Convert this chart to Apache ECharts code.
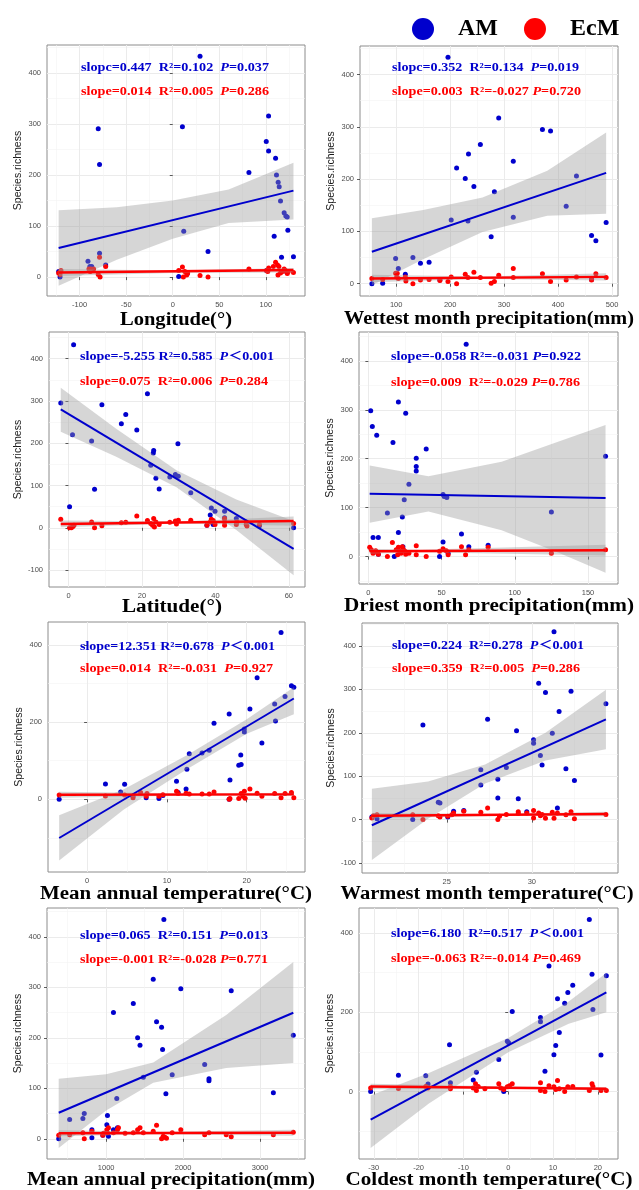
<!DOCTYPE html>
<html>
<head>
<meta charset="utf-8">
<script src="https://cdn.jsdelivr.net/npm/echarts@6/dist/echarts.min.js"></script>
<style>html,body{margin:0;padding:0;background:#fff}#chart{width:639px;height:1190px}</style>
</head>
<body>
<div id="chart"></div>
<script>
// ---- Longitude ----
var lonAM = [[-122.5,11],[-121,0],[-91,31],[-89,21],[-87,21],[-80,291],[-78.6,221],[-78.6,47],[-72,24],[10.4,295],[11.8,90],[6.4,1],[15.7,7],[29.3,433],[37.9,50],[81.8,205],[102.9,316],[100.4,266],[102.9,247],[110.4,233],[111.4,200],[113.2,186],[114.3,177],[115.7,149],[119.6,126],[121.4,120],[122.9,118],[123.6,92],[108.9,80],[116.8,39],[129.6,40],[100.7,13],[122,11]];
var lonEcM = [[-122.5,8],[-121,5],[-120,13],[-90,16],[-88,16],[-85,16],[-88.6,11],[-78.6,39],[-80,5],[-78,0],[-72,21],[6.4,13],[10.4,20],[13,11],[11.4,0],[15,4],[16,8],[29.3,3],[37.9,0],[81.8,16],[100.7,13],[103,18],[102,11],[108,21],[110.4,29],[112.5,24],[114,21],[113,4],[115.7,8],[118,11],[119.6,16],[121,13],[123,7],[124,11],[129.6,9]];
var lonFitAM = [[-122.5,57],[129.6,169.6]];
var lonFitEcM = [[-122.5,9],[129.6,14]];
var lonBandAM = [[-122.5,-17,131],[-60,34,137],[0,75,150],[60,106,172],[129.6,113,224]];
var lonBandEcM = [[-122.5,2,16],[0,8,13],[129.6,9,18]];
var lonXRange = [-135, 142], lonYRange = [-37, 455];
var lonXTicks = [-100,-50,0,50,100], lonXMinor = [-125,-75,-25,25,75,125];
var lonYTicks = [0,100,200,300,400], lonYMinor = [50,150,250,350,450];
var lonNotes = [['slopc=0.447  R²=0.102  ','=0.037'],['slope=0.014  R²=0.005  ','=0.286']];

// ---- Wettest month precipitation ----
var wetAM = [[55,0],[75,1],[99,48],[104,29],[117,18],[131,50],[145,39],[161,41],[181,7],[196,433],[202,122],[212,221],[228,201],[234,248],[233,120],[244,186],[256,266],[276,90],[282,176],[290,317],[317,234],[317,127],[371,295],[386,292],[415,148],[434,206],[462,92],[470,82],[489,117],[462,8]];
var wetEcM = [[55,10],[75,8],[99,20],[102,20],[101,13],[104,10],[118,5],[117,13],[131,0],[145,7],[161,8],[181,6],[196,4],[202,13],[212,0],[228,18],[233,12],[244,22],[256,12],[276,1],[282,4],[290,16],[317,29],[317,12],[371,19],[386,4],[415,7],[434,13],[462,7],[470,19],[489,12]];
var wetFitAM = [[55,61],[489,212]];
var wetFitEcM = [[55,10],[489,13]];
var wetBandAM = [[55,-3,125],[150,47,141],[260,99,165],[380,130,216],[489,134,289]];
var wetBandEcM = [[55,3,17],[260,9,14],[489,6,20]];
var wetXRange = [33, 511], wetYRange = [-23.5, 454.5];
var wetXTicks = [100,200,300,400,500], wetXMinor = [50,150,250,350,450];
var wetYTicks = [0,100,200,300,400], wetYMinor = [50,150,250,350,450];
var wetNotes = [['slopc=0.352  R²=0.134  ','=0.019'],['slope=0.003  R²=-0.027 ','=0.720']];

// ---- Latitude ----
var latAM = [[-2.1,295],[1.4,433],[0.3,50],[1.1,220],[6.3,205],[7.1,91],[9.1,291],[14.4,246],[15.6,268],[18.6,231],[21.5,317],[22.4,148],[23.2,183],[23.1,177],[23.8,117],[24.7,92],[27.6,120],[29.1,126],[29.8,199],[29.9,122],[33.3,83],[37.7,6],[38.6,30],[38.9,47],[39.9,39],[42.5,39],[42.5,24],[45.7,22],[48.4,14],[52,5],[61.3,0],[39.4,8]];
var latEcM = [[-2.1,20],[0.3,0],[0.8,0],[1.2,3],[1.5,6],[6.3,14],[7.1,0],[9.1,5],[14.4,12],[15.6,13],[18.6,28],[21.5,17],[22.4,10],[22.9,6],[23.2,22],[23.4,2],[23.8,14],[24.7,8],[27.6,13],[29.1,16],[29.9,18],[29.4,9],[33.3,18],[37.7,6],[38.6,14],[38.9,20],[39.4,17],[39.9,8],[42.5,14],[42.5,6],[42.5,22],[45.7,8],[45.9,14],[48.4,8],[48.6,4],[52,8],[61.3,10]];
var latFitAM = [[-2.1,280],[61.3,-50]];
var latFitEcM = [[-2.1,9],[61.3,16]];
var latBandAM = [[-2.1,227,331],[13,168,234],[29.4,96,136],[45.7,-5,67],[61.3,-112,16]];
var latBandEcM = [[-2.1,1,17],[30,10,15],[61.3,5,27]];
var latXRange = [-5.3, 64.4], latYRange = [-140, 463];
var latXTicks = [0,20,40,60], latXMinor = [10,30,50];
var latYTicks = [-100,0,100,200,300,400], latYMinor = [-50,50,150,250,350,450];
var latNotes = [['slope=-5.255 R²=0.585  ','＜0.001'],['slope=0.075  R²=0.006  ','=0.284']];

// ---- Driest month precipitation ----
var dryAM = [[1.6,298],[2.7,266],[5.7,248],[3.2,39],[6.8,39],[6.8,5],[13,89],[16.8,233],[17.7,0],[20.5,316],[20.5,49],[23.2,81],[24.5,116],[23.6,20],[25.5,293],[27.7,148],[32.7,201],[32.7,184],[32.7,175],[39.5,220],[48.6,0],[51,127],[51.8,123],[53.6,121],[51,30],[54.5,7],[63.6,46],[66.8,434],[68.6,20],[81.8,23],[125,91],[162,205]];
var dryEcM = [[0.9,19],[2,14],[3.2,7],[5,12],[6.1,9],[6.8,5],[13,0],[16.4,29],[19,14],[20,4],[20.5,19],[21.4,11],[22.3,7],[23.2,20],[24,14],[25,11],[25.5,5],[27.7,7],[32.7,22],[32.7,4],[39.5,0],[48.6,11],[51,16],[53.2,12],[54.5,4],[63.6,20],[66.4,4],[68.6,14],[81.8,19],[125,7],[162,14]];
var dryFitAM = [[0.9,128.6],[162,119.7]];
var dryFitEcM = [[0.9,11],[162,13]];
var dryBandAM = [[0.9,69,186],[41,92,164],[91,54,194],[130,8,235],[162,-33,269]];
var dryBandEcM = [[0.9,6,16],[35,9,14],[162,2,24]];
var dryXRange = [-6.4, 170.5], dryYRange = [-56, 459];
var dryXTicks = [0,50,100,150], dryXMinor = [25,75,125];
var dryYTicks = [0,100,200,300,400], dryYMinor = [-50,50,150,250,350,450];
var dryNotes = [['slope=-0.058 R²=-0.031 ','=0.922'],['slope=0.009  R²=-0.029 ','=0.786']];

// ---- Mean annual temperature ----
var matAM = [[-3.5,0],[2.3,40],[4.2,19],[4.7,39],[5.75,8],[7.4,4],[9,2],[9.5,10],[11.2,47],[11.4,18],[12.4,27],[12.5,78],[12.8,118],[14.4,120],[15.3,127],[15.9,197],[17.8,221],[17.9,50],[19,88],[19.3,90],[19.25,115],[19.7,174],[19.7,182],[20.4,234],[21.3,315],[21.9,146],[23.5,247],[23.6,203],[24.3,432],[24.8,266],[25.6,294],[25.9,290],[17.8,0]];
var matEcM = [[-3.5,11],[2.3,9],[4.7,11],[5.75,4],[6.7,18],[7.4,8],[7.5,15],[9,8],[9.5,12],[11.2,21],[11.4,15],[12.4,16],[12.8,14],[14.4,14],[15.3,14],[15.9,19],[17.8,0],[17.9,2],[19,2],[19.3,15],[19.5,8],[19.7,21],[19.8,3],[20.4,27],[21.3,16],[21.9,8],[23.5,15],[24.3,4],[24.8,15],[25.6,18],[25.9,4]];
var matFitAM = [[-3.5,-100],[25.9,261]];
var matFitEcM = [[-3.5,12],[25.9,13]];
var matBandAM = [[-3.5,-158,-41],[4.6,-26,26],[12.5,78,114],[20,170,207],[25.9,220,290]];
var matBandEcM = [[-3.5,4,20],[14,10,15],[25.9,9,17]];
var matXRange = [-4.9, 27.3], matYRange = [-188, 459];
var matXTicks = [0,10,20], matXMinor = [5,15,25];
var matYTicks = [0,200,400], matYMinor = [-100,100,300];
var matNotes = [['slope=12.351 R²=0.678  ','＜0.001'],['slope=0.014  R²=-0.031  ','=0.927']];

// ---- Warmest month temperature ----
var warmAM = [[20.6,6],[20.9,2],[23,0],[23.6,218],[24.5,40],[24.6,38],[25.06,6],[25.4,19],[26,21],[27,115],[27,80],[27.4,231],[28,93],[28,50],[28.5,120],[29.1,205],[29.2,48],[29.7,18],[30.1,184],[30.1,176],[30.4,314],[30.5,148],[30.6,126],[30.8,293],[31.2,199],[31.3,433],[31.5,27],[31.6,249],[32,117],[32.3,296],[32.5,90],[34.35,267]];
var warmEcM = [[20.6,4],[20.7,9],[20.9,11],[23,11],[23.6,0],[24.5,9],[24.6,6],[25.06,8],[25.3,11],[25.4,15],[26,19],[27,17],[27.4,27],[28,0],[28.1,8],[28.5,12],[29.2,18],[29.2,14],[29.7,15],[30.1,21],[30.1,4],[30.4,15],[30.5,9],[30.6,12],[30.8,3],[31.2,17],[31.3,3],[31.5,15],[32,11],[32.3,18],[32.5,2],[34.35,12]];
var warmFitAM = [[20.6,-13],[34.35,231]];
var warmFitEcM = [[20.6,9],[34.35,13]];
var warmBandAM = [[20.6,-93,71],[23.9,2,88],[27.25,83,127],[30.8,136,200],[34.35,162,299]];
var warmBandEcM = [[20.6,3,15],[28.5,9,13],[34.35,8,18]];
var warmXRange = [20.02, 35.06], warmYRange = [-123, 453];
var warmXTicks = [25,30], warmXMinor = [22.5,27.5,32.5];
var warmYTicks = [-100,0,100,200,300,400], warmYMinor = [-50,50,150,250,350,450];
var warmNotes = [['slope=0.224  R²=0.278  ','＜0.001'],['slope=0.359  R²=0.005  ','=0.286']];

// ---- Mean annual precipitation ----
var mapAM = [[384,0],[526,38],[698,40],[716,50],[815,18],[815,2],[1009,28],[1017,46],[1030,5],[1095,250],[1095,18],[1138,80],[1147,22],[1353,268],[1409,200],[1440,185],[1483,122],[1612,316],[1655,232],[1720,221],[1733,177],[1750,434],[1776,89],[1858,127],[1970,297],[2280,147],[2336,119],[2336,115],[2625,293],[3172,91],[3431,205],[957,7]];
var mapEcM = [[384,7],[526,8],[698,12],[716,0],[815,15],[957,7],[966,11],[1009,18],[1017,12],[1030,22],[1095,12],[1147,18],[1160,22],[1246,11],[1353,12],[1409,18],[1440,22],[1483,12],[1612,15],[1655,27],[1720,0],[1741,5],[1763,3],[1784,1],[1858,12],[1970,18],[2280,8],[2336,12],[2560,8],[2625,4],[3172,8],[3431,13]];
var mapFitAM = [[384,51.5],[3431,249.5]];
var mapFitEcM = [[384,11],[3431,12]];
var mapBandAM = [[384,-18,119],[1000,56,128],[1612,111,151],[2560,140,245],[3431,150,350]];
var mapBandEcM = [[384,5,17],[1700,9,14],[3431,6,18]];
var mapXRange = [232, 3583], mapYRange = [-40, 457];
var mapXTicks = [1000,2000,3000], mapXMinor = [500,1500,2500,3500];
var mapYTicks = [0,100,200,300,400], mapYMinor = [50,150,250,350,450];
var mapNotes = [['slope=0.065  R²=0.151  ','=0.013'],['slope=-0.001 R²=-0.028 ','=0.771']];

// ---- Coldest month temperature ----
var coldAM = [[-30.7,0],[-24.5,41],[-18.4,40],[-17.9,19],[-13.1,118],[-12.9,22],[-7.8,29],[-7.1,49],[-2.1,81],[-1,0],[-0.2,127],[0.1,123],[0.9,202],[7.2,187],[7.2,176],[8.2,51],[9.1,317],[10.2,93],[10.6,116],[11,234],[11.4,149],[12.6,223],[13.3,250],[14.4,268],[18.1,434],[18.7,296],[18.9,207],[20.7,92],[21.9,292]];
var coldEcM = [[-30.7,9],[-24.5,8],[-18.4,13],[-17.9,9],[-12.9,13],[-12.9,7],[-7.8,9],[-7.3,20],[-7.1,3],[-6.7,13],[-5.2,7],[-2.1,20],[-1.7,9],[-1,5],[-0.2,12],[0.3,15],[0.9,20],[7.2,22],[7.2,3],[8.2,0],[9.1,15],[10.2,12],[10.6,5],[11,28],[11.4,7],[12.6,0],[13.3,12],[14.4,13],[18.1,3],[18.7,20],[18.9,13],[20.7,3],[21.9,3]];
var coldFitAM = [[-30.7,-70.6],[21.9,250]];
var coldFitEcM = [[-30.7,13],[21.9,7]];
var coldBandAM = [[-30.7,-142,-10],[-17.7,-30,47],[0,99,135],[13.5,171,227],[21.9,200,299]];
var coldBandEcM = [[-30.7,6,20],[0,8,13],[21.9,3,11]];
var coldXRange = [-33.3, 24.5], coldYRange = [-170, 463];
var coldXTicks = [-30,-20,-10,0,10,20], coldXMinor = [-25,-15,-5,5,15];
var coldYTicks = [0,200,400], coldYMinor = [-100,100,300];
var coldNotes = [['slope=6.180  R²=0.517  ','＜0.001'],['slope=-0.063 R²=-0.014 ','=0.469']];

var groups = ['AM', 'EcM'];

var panels = [
  {am: lonAM, ecm: lonEcM, amFit: lonFitAM, ecmFit: lonFitEcM, amBand: lonBandAM, ecmBand: lonBandEcM,
   xr: lonXRange, yr: lonYRange, xt: lonXTicks, xm: lonXMinor, yt: lonYTicks, ym: lonYMinor, notes: lonNotes,
   box: [47, 45, 258, 251], title: 'Longitude(°)', tpos: [176, 320, 112], npos: [81, 68, 92, 188, 188]},
  {am: wetAM, ecm: wetEcM, amFit: wetFitAM, ecmFit: wetFitEcM, amBand: wetBandAM, ecmBand: wetBandEcM,
   xr: wetXRange, yr: wetYRange, xt: wetXTicks, xm: wetXMinor, yt: wetYTicks, ym: wetYMinor, notes: wetNotes,
   box: [360, 46, 258, 250], title: 'Wettest month precipitation(mm)', tpos: [489, 319, 290], npos: [392, 68, 92, 187, 189]},
  {am: latAM, ecm: latEcM, amFit: latFitAM, ecmFit: latFitEcM, amBand: latBandAM, ecmBand: latBandEcM,
   xr: latXRange, yr: latYRange, xt: latXTicks, xm: latXMinor, yt: latYTicks, ym: latYMinor, notes: latNotes,
   box: [49, 332, 256, 255], title: 'Latitude(°)', tpos: [172, 607, 100], npos: [80, 357, 382, 194, 188]},
  {am: dryAM, ecm: dryEcM, amFit: dryFitAM, ecmFit: dryFitEcM, amBand: dryBandAM, ecmBand: dryBandEcM,
   xr: dryXRange, yr: dryYRange, xt: dryXTicks, xm: dryXMinor, yt: dryYTicks, ym: dryYMinor, notes: dryNotes,
   box: [359, 332, 259, 252], title: 'Driest month precipitation(mm)', tpos: [489, 606, 290], npos: [391, 357, 383, 190, 189]},
  {am: matAM, ecm: matEcM, amFit: matFitAM, ecmFit: matFitEcM, amBand: matBandAM, ecmBand: matBandEcM,
   xr: matXRange, yr: matYRange, xt: matXTicks, xm: matXMinor, yt: matYTicks, ym: matYMinor, notes: matNotes,
   box: [48, 622, 257, 250], title: 'Mean annual temperature(°C)', tpos: [176, 894, 272], npos: [80, 647, 669, 195, 193]},
  {am: warmAM, ecm: warmEcM, amFit: warmFitAM, ecmFit: warmFitEcM, amBand: warmBandAM, ecmBand: warmBandEcM,
   xr: warmXRange, yr: warmYRange, xt: warmXTicks, xm: warmXMinor, yt: warmYTicks, ym: warmYMinor, notes: warmNotes,
   box: [362, 623, 256, 250], title: 'Warmest month temperature(°C)', tpos: [487, 894, 293], npos: [392, 646, 669, 192, 188]},
  {am: mapAM, ecm: mapEcM, amFit: mapFitAM, ecmFit: mapFitEcM, amBand: mapBandAM, ecmBand: mapBandEcM,
   xr: mapXRange, yr: mapYRange, xt: mapXTicks, xm: mapXMinor, yt: mapYTicks, ym: mapYMinor, notes: mapNotes,
   box: [47, 908, 258, 251], title: 'Mean annual precipitation(mm)', tpos: [171, 1180, 288], npos: [80, 936, 960, 188, 188]},
  {am: coldAM, ecm: coldEcM, amFit: coldFitAM, ecmFit: coldFitEcM, amBand: coldBandAM, ecmBand: coldBandEcM,
   xr: coldXRange, yr: coldYRange, xt: coldXTicks, xm: coldXMinor, yt: coldYTicks, ym: coldYMinor, notes: coldNotes,
   box: [359, 908, 259, 251], title: 'Coldest month temperature(°C)', tpos: [489, 1180, 287], npos: [391, 934, 959, 193, 190]}
];

var BLUE = '#0000CD', RED = '#FF0000';
var SERIF = '"Liberation Serif", "Times New Roman", "Noto Sans CJK SC", serif';
var measureCtx = document.createElement('canvas').getContext('2d');
function textWidth(str, font) { measureCtx.font = font; return measureCtx.measureText(str).width; }

function mainAxis(range, ticks, isX, gi) {
  var ax = {
    type: 'value', gridIndex: gi, min: range[0], max: range[1],
    axisLine: {show: false},
    axisTick: {show: true, length: 3, lineStyle: {color: '#333', width: 0.8}, customValues: ticks},
    axisLabel: {customValues: ticks, fontSize: 7.5, color: '#4d4d4d', fontFamily: 'Liberation Sans', margin: isX ? 5 : 6,
      formatter: function (v) { return String(v); }},
    splitLine: {show: true, lineStyle: {color: '#ebebeb', width: 1}}
  };
  if (!isX) {
    ax.name = 'Species.richness';
    ax.nameLocation = 'middle';
    ax.nameGap = 23;
    ax.nameTextStyle = {fontSize: 10.5, color: '#1a1a1a', fontFamily: 'Liberation Sans'};
  }
  return ax;
}
function minorAxis(range, minors, isX, gi) {
  return {
    type: 'value', gridIndex: gi, min: range[0], max: range[1], position: isX ? 'bottom' : 'left',
    axisLine: {show: false}, axisLabel: {show: false},
    axisTick: {show: false, customValues: minors},
    splitLine: {show: true, lineStyle: {color: '#f4f4f4', width: 0.6}}
  };
}
function bandSeries(band, gi) {
  return {
    type: 'custom', xAxisIndex: gi * 2, yAxisIndex: gi * 2, silent: true, z: 3,
    data: band, encode: {x: 0, y: [1, 2]},
    renderItem: function (params, api) {
      if (params.dataIndex !== 0) return null;
      var pts = [];
      for (var i = 0; i < band.length; i++) pts.push(api.coord([band[i][0], band[i][2]]));
      for (var j = band.length - 1; j >= 0; j--) pts.push(api.coord([band[j][0], band[j][1]]));
      return {type: 'polygon', shape: {points: pts}, style: {fill: 'rgba(153,153,153,0.4)'}};
    }
  };
}

var grids = [], xAxes = [], yAxes = [], series = [], graphics = [];
panels.forEach(function (p, gi) {
  grids.push({left: p.box[0], top: p.box[1], width: p.box[2], height: p.box[3], show: true,
    borderColor: '#8c8c8c', borderWidth: 1, backgroundColor: '#fff'});
  xAxes.push(mainAxis(p.xr, p.xt, true, gi), minorAxis(p.xr, p.xm, true, gi));
  yAxes.push(mainAxis(p.yr, p.yt, false, gi), minorAxis(p.yr, p.ym, false, gi));
  var ax = {xAxisIndex: gi * 2, yAxisIndex: gi * 2};
  [[p.am, BLUE, groups[0]], [p.ecm, RED, groups[1]]].forEach(function (s) {
    series.push(Object.assign({type: 'scatter', name: s[2], data: s[0], symbolSize: 5, z: 2, silent: true,
      itemStyle: {color: s[1], opacity: 1}}, ax));
  });
  series.push(bandSeries(p.ecmBand, gi), bandSeries(p.amBand, gi));
  [[p.amFit, BLUE, 2], [p.ecmFit, RED, 2.4]].forEach(function (s) {
    series.push(Object.assign({type: 'line', data: s[0], showSymbol: false, z: 5, silent: true,
      lineStyle: {color: s[1], width: s[2]}}, ax));
  });

  // x-axis title, stretched to the reference width
  var tFont = 'bold 18px ' + SERIF;
  graphics.push({type: 'text', x: p.tpos[0], y: p.tpos[1], z: 100, scaleX: p.tpos[2] / textWidth(p.title, tFont), silent: true,
    style: {text: p.title, font: tFont, fill: '#000', align: 'center', verticalAlign: 'middle'}});

  // regression annotations
  var nFont = 'bold 12px ' + SERIF;
  [[p.notes[0], BLUE, p.npos[1], p.npos[3]], [p.notes[1], RED, p.npos[2], p.npos[4]]].forEach(function (n) {
    var plain = n[0][0] + 'P' + n[0][1];
    graphics.push({type: 'text', x: p.npos[0], y: n[2], z: 100, scaleX: n[3] / textWidth(plain, nFont), silent: true,
      style: {text: '{a|' + n[0][0] + '}{i|P}{a|' + n[0][1] + '}', fill: n[1], align: 'left', verticalAlign: 'middle',
        font: nFont,
        rich: {a: {font: nFont, fill: n[1]}, i: {font: 'italic bold 12px ' + SERIF, fill: n[1]}}}});
  });
});

var chart = echarts.init(document.getElementById('chart'));
chart.setOption({
  animation: false,
  backgroundColor: '#fff',
  legend: {data: groups, left: 407, top: 12, icon: 'circle', itemWidth: 22, itemHeight: 22, itemGap: 26,
    selectedMode: false,
    textStyle: {fontFamily: SERIF, fontWeight: 'bold', fontSize: 24, color: '#000', padding: [0, 0, 0, 19]}},
  grid: grids,
  xAxis: xAxes,
  yAxis: yAxes,
  series: series,
  graphic: graphics
});
</script>
</body>
</html>
